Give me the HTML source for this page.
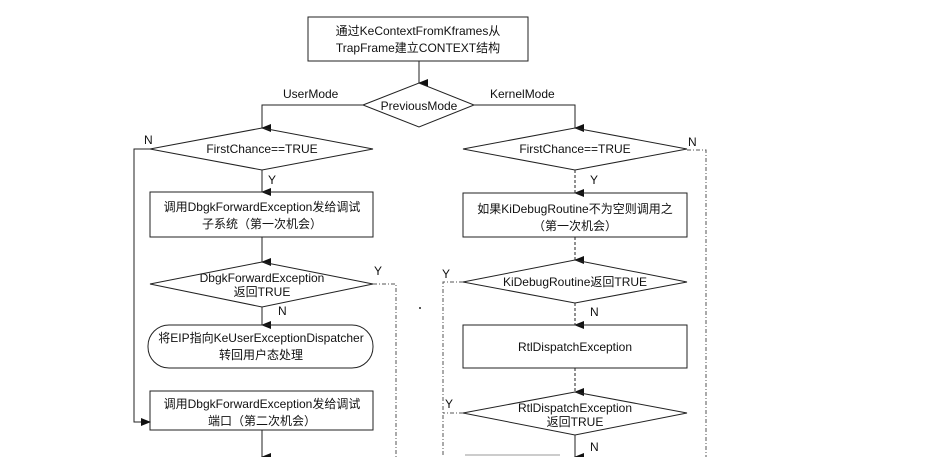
<!DOCTYPE html>
<html><head><meta charset="utf-8"><style>
html,body{margin:0;padding:0;background:#fff;}
svg text{font-family:"Liberation Sans","Noto Sans CJK SC",sans-serif;font-size:12px;fill:#111;}
</style></head><body>
<svg width="926" height="457" viewBox="0 0 926 457" xmlns="http://www.w3.org/2000/svg">
<defs><marker id="a" markerWidth="8" markerHeight="10" refX="4" refY="9" orient="auto-start-reverse" markerUnits="userSpaceOnUse"><path d="M0,0 L8,0 L4,10 z" fill="#111"/></marker>
<marker id="r" markerWidth="10" markerHeight="8" refX="9" refY="4" orient="0" markerUnits="userSpaceOnUse"><path d="M0,0 L10,4 L0,8 z" fill="#111"/></marker></defs>
<g stroke="#222" stroke-width="1" fill="none">
<rect x="308" y="17" width="220" height="44"/>
<line x1="419" y1="61" x2="419" y2="83" marker-end="url(#a)"/>
<polygon points="363,105 419,83 474,105 419,127"/>
<polyline points="363,105 262,105 262,128" marker-end="url(#a)"/>
<polyline points="474,105 575,105 575,128" marker-end="url(#a)"/>
<!-- left -->
<polygon points="150,149 262,128 373,149 262,170"/>
<line x1="262" y1="170" x2="262" y2="192" marker-end="url(#a)"/>
<rect x="150" y="192" width="223" height="45"/>
<line x1="262" y1="237" x2="262" y2="262" marker-end="url(#a)"/>
<polygon points="150,284 262,262 373,284 262,307"/>
<line x1="262" y1="307" x2="262" y2="325" marker-end="url(#a)"/>
<rect x="148" y="325" width="225" height="43" rx="21" ry="21"/>
<rect x="150" y="391" width="223" height="39"/>
<polyline points="150,149 134,149 134,422 150,422" marker-end="url(#r)"/>
<line x1="262" y1="430" x2="262" y2="457" marker-end="url(#a)"/>
<!-- right -->
<polygon points="463,149 575,128 687,149 575,170"/>
<line x1="575" y1="170" x2="575" y2="193" stroke-dasharray="3,2" marker-end="url(#a)"/>
<rect x="463" y="193" width="224" height="44"/>
<line x1="575" y1="237" x2="575" y2="260" stroke-dasharray="3,2" marker-end="url(#a)"/>
<polygon points="463,282 575,260 687,282 575,303"/>
<line x1="575" y1="303" x2="575" y2="325" stroke-dasharray="3,2" marker-end="url(#a)"/>
<rect x="463" y="325" width="224" height="43"/>
<line x1="575" y1="368" x2="575" y2="392" stroke-dasharray="3,2" marker-end="url(#a)"/>
<polygon points="463,413 575,392 687,413 575,435"/>
<line x1="575" y1="435" x2="575" y2="457" marker-end="url(#a)"/>
</g>
<g stroke="#555" stroke-width="1" fill="none" stroke-dasharray="4,2,1,2">
<polyline points="373,284 396,284 396,457"/>
<polyline points="687,150 706,150 706,457"/>
<polyline points="463,282 443,282 443,457"/>
<line x1="463" y1="413" x2="443" y2="413"/>
</g>
<line x1="465" y1="455" x2="560" y2="455" stroke="#999" stroke-width="1"/>
<circle cx="420" cy="308" r="1" fill="#222"/>
<g text-anchor="middle">
<text x="418" y="35">通过KeContextFromKframes从</text>
<text x="418" y="52">TrapFrame建立CONTEXT结构</text>
<text x="419" y="110">PreviousMode</text>
<text x="262" y="153">FirstChance==TRUE</text>
<text x="262" y="211">调用DbgkForwardException发给调试</text>
<text x="262" y="228">子系统（第一次机会）</text>
<text x="262" y="282">DbgkForwardException</text>
<text x="262" y="296">返回TRUE</text>
<text x="261" y="342">将EIP指向KeUserExceptionDispatcher</text>
<text x="261" y="359">转回用户态处理</text>
<text x="262" y="408">调用DbgkForwardException发给调试</text>
<text x="262" y="425">端口（第二次机会）</text>
<text x="575" y="153">FirstChance==TRUE</text>
<text x="575" y="213">如果KiDebugRoutine不为空则调用之</text>
<text x="575" y="230">（第一次机会）</text>
<text x="575" y="286">KiDebugRoutine返回TRUE</text>
<text x="575" y="351">RtlDispatchException</text>
<text x="575" y="412">RtlDispatchException</text>
<text x="575" y="426">返回TRUE</text>
</g>
<text x="283" y="98">UserMode</text>
<text x="490" y="98">KernelMode</text>
<text x="144" y="144">N</text>
<text x="268" y="184">Y</text>
<text x="374" y="275">Y</text>
<text x="278" y="315">N</text>
<text x="688" y="146">N</text>
<text x="590" y="184">Y</text>
<text x="442" y="278">Y</text>
<text x="590" y="316">N</text>
<text x="445" y="408">Y</text>
<text x="590" y="451">N</text>
</svg>
</body></html>
